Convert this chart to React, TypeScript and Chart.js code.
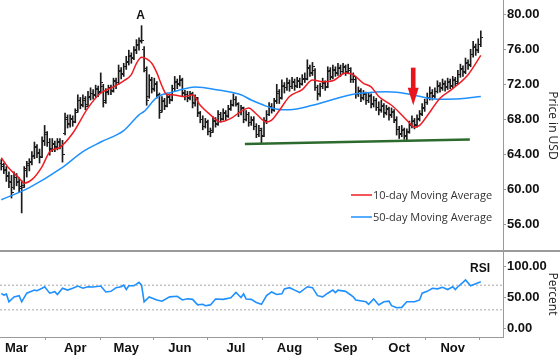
import React, { useEffect, useRef } from 'react';
import { Chart, registerables } from 'chart.js';

Chart.register(...registerables);

// ---- categories / ticks ----
const monthLabels = ['Mar', 'Apr', 'May', 'Jun', 'Jul', 'Aug', 'Sep', 'Oct', 'Nov'];
const monthStartDay = [6, 29, 49, 70, 92, 113, 135, 156, 177];
const priceTicks = [56, 60, 64, 68, 72, 76, 80];
const rsiTicks = [0, 50, 100];
const rsiBands = [70, 30];

// ---- daily OHLC (trading-day index 0..188) ----
const opens = [
  63.0, 62.6, 62.2, 61.6, 60.9, 60.2, 61.3, 60.8, 60.1, 60.4,
  62.2, 62.7, 63.1, 63.8, 64.8, 64.1, 63.8, 65.5, 66.3, 65.3,
  64.7, 65.1, 64.9, 65.4, 64.9, 66.4, 68.0, 67.5, 68.0, 67.8,
  69.0, 70.1, 69.7, 70.2, 69.7, 70.5, 71.0, 70.8, 71.4, 71.2,
  71.8, 70.1, 71.1, 71.5, 71.3, 72.3, 72.2, 73.5, 73.2, 74.0,
  74.5, 75.2, 75.1, 75.9, 76.4, 77.0, 76.0, 73.8, 70.6, 72.4,
  71.5, 72.0, 70.7, 69.0, 70.0, 69.6, 70.5, 70.3, 71.5, 72.2,
  72.1, 72.4, 71.1, 70.8, 70.5, 70.8, 69.9, 70.3, 68.8, 68.0,
  67.2, 67.6, 66.6, 66.7, 67.8, 67.5, 68.5, 68.1, 68.7, 68.4,
  69.2, 69.7, 70.3, 69.7, 68.8, 69.2, 68.0, 68.5, 67.6, 67.9,
  67.2, 66.3, 66.7, 66.2, 67.9, 68.6, 69.4, 69.1, 70.1, 71.0,
  70.5, 71.8, 71.6, 72.1, 71.8, 72.2, 71.9, 72.3, 72.1, 72.6,
  72.7, 73.8, 73.3, 73.6, 71.6, 70.9, 71.8, 72.1, 71.8, 73.5,
  72.9, 73.6, 73.3, 73.8, 73.5, 73.9, 73.5, 73.6, 72.6, 72.6,
  70.9, 71.2, 70.5, 70.8, 70.2, 70.6, 69.8, 70.1, 69.4, 69.1,
  69.5, 68.8, 69.1, 68.5, 68.8, 67.9, 66.8, 66.4, 66.7, 66.0,
  66.6, 67.3, 67.8, 67.4, 68.0, 68.7, 69.2, 69.9, 70.4, 71.0,
  70.7, 71.2, 71.8, 71.6, 72.0, 71.7, 72.2, 71.9, 72.4, 72.3,
  73.1, 73.7, 73.5, 74.4, 74.3, 75.4, 76.2, 76.0, 76.6,
];
const highs = [
  63.4, 63.0, 62.6, 62.0, 61.6, 62.0, 61.8, 61.3, 61.0, 62.6,
  63.2, 63.5, 64.3, 65.4, 65.1, 64.6, 66.0, 67.3, 66.6, 65.8,
  65.8, 65.5, 65.8, 65.8, 65.6, 68.7, 68.5, 68.5, 68.4, 69.2,
  70.8, 70.5, 70.8, 70.6, 71.2, 71.6, 71.4, 71.9, 71.8, 73.3,
  72.0, 71.5, 71.9, 71.9, 72.7, 72.7, 74.2, 73.9, 74.4, 75.2,
  75.9, 75.6, 76.3, 77.1, 77.3, 78.7, 76.3, 74.0, 73.1, 72.8,
  72.7, 72.3, 71.0, 70.6, 70.4, 71.0, 70.9, 71.9, 72.9, 72.6,
  73.0, 72.7, 71.3, 71.2, 71.2, 71.1, 70.8, 70.5, 68.9, 68.4,
  68.1, 67.9, 67.0, 68.3, 68.2, 69.0, 68.8, 69.2, 69.0, 69.6,
  70.2, 70.9, 70.6, 69.9, 69.6, 69.4, 69.0, 68.8, 68.3, 68.3,
  67.5, 67.3, 67.0, 68.2, 69.0, 69.9, 69.8, 70.4, 72.0, 71.4,
  72.5, 72.2, 72.7, 72.5, 72.8, 72.6, 72.8, 72.7, 73.1, 73.3,
  74.8, 74.2, 74.5, 73.8, 71.9, 72.1, 72.7, 72.4, 74.0, 73.9,
  74.2, 74.0, 74.4, 74.2, 74.4, 74.2, 74.3, 73.9, 73.3, 72.8,
  71.7, 71.5, 71.3, 71.1, 71.0, 70.9, 70.6, 70.4, 70.0, 70.2,
  69.8, 69.6, 69.4, 69.3, 69.1, 68.3, 67.2, 67.3, 67.0, 66.9,
  67.8, 68.4, 68.1, 68.5, 69.0, 69.8, 70.3, 71.0, 71.7, 71.4,
  71.6, 72.4, 72.2, 72.6, 72.4, 72.7, 72.6, 72.9, 72.8, 73.6,
  74.3, 74.1, 75.0, 74.8, 76.0, 76.9, 76.6, 77.2, 78.1,
];
const lows = [
  62.2, 61.8, 60.9, 60.2, 59.0, 60.0, 60.4, 59.7, 57.3, 60.2,
  61.4, 62.1, 62.8, 63.5, 63.6, 63.0, 63.6, 65.0, 64.9, 63.9,
  64.3, 64.3, 64.5, 64.6, 63.1, 66.2, 67.0, 67.1, 67.2, 67.6,
  68.8, 69.2, 69.4, 69.1, 69.5, 70.2, 70.3, 70.5, 70.6, 71.0,
  69.4, 69.8, 70.8, 70.8, 71.1, 71.5, 72.0, 72.6, 72.9, 73.7,
  74.2, 74.4, 74.8, 75.5, 75.9, 76.7, 73.4, 69.6, 70.4, 71.0,
  71.2, 70.4, 68.1, 68.8, 69.1, 69.4, 69.8, 70.1, 71.2, 71.5,
  71.8, 70.7, 70.2, 70.0, 70.2, 69.3, 69.5, 68.3, 67.6, 66.8,
  67.0, 66.2, 66.0, 66.5, 67.1, 67.3, 67.7, 67.9, 67.9, 68.2,
  69.0, 69.5, 69.5, 68.3, 68.5, 67.6, 67.8, 67.2, 67.3, 66.8,
  65.9, 66.0, 65.3, 66.0, 67.5, 68.4, 68.7, 68.9, 69.8, 69.8,
  70.3, 71.0, 71.3, 71.2, 71.5, 71.3, 71.6, 71.6, 71.9, 72.2,
  72.5, 72.9, 73.0, 71.3, 70.2, 70.6, 71.5, 71.3, 71.6, 72.5,
  72.6, 72.9, 73.0, 72.9, 73.2, 73.0, 73.2, 72.2, 72.2, 70.4,
  70.6, 70.0, 70.2, 69.7, 69.9, 69.3, 69.4, 69.0, 68.5, 68.8,
  68.2, 68.5, 67.9, 68.2, 67.6, 66.2, 65.8, 66.0, 65.7, 65.5,
  66.4, 67.0, 66.9, 67.1, 67.8, 68.4, 68.9, 69.7, 70.2, 70.2,
  70.4, 71.0, 71.1, 71.3, 71.2, 71.4, 71.5, 71.6, 71.8, 72.0,
  72.8, 72.9, 73.2, 73.7, 74.0, 75.1, 75.3, 75.6, 76.3,
];
const closes = [
  62.8, 62.3, 61.5, 60.8, 59.6, 61.4, 60.9, 60.3, 60.2, 62.4,
  62.9, 63.2, 63.9, 64.9, 64.2, 63.6, 65.6, 66.5, 65.4, 64.6,
  65.2, 64.8, 65.5, 65.0, 64.0, 68.2, 67.4, 68.1, 67.6, 68.8,
  70.2, 69.6, 70.4, 69.5, 70.6, 71.0, 70.7, 71.5, 71.1, 72.2,
  69.9, 71.2, 71.6, 71.2, 72.4, 72.0, 73.6, 73.1, 74.0, 74.6,
  75.3, 75.0, 76.0, 76.5, 76.9, 77.0, 73.6, 70.1, 72.5, 71.4,
  72.1, 70.8, 68.8, 70.1, 69.5, 70.6, 70.2, 71.5, 72.3, 72.0,
  72.6, 71.0, 70.8, 70.4, 70.9, 69.8, 70.5, 68.7, 68.0, 67.2,
  67.7, 66.6, 66.5, 67.9, 67.4, 68.6, 68.0, 68.8, 68.3, 69.1,
  69.6, 70.3, 69.8, 68.8, 69.3, 68.0, 68.6, 67.6, 68.0, 67.2,
  66.3, 66.9, 66.0, 67.8, 68.6, 69.5, 69.0, 70.0, 71.2, 70.4,
  71.9, 71.6, 72.2, 71.7, 72.3, 71.8, 72.4, 72.0, 72.7, 72.5,
  73.9, 73.2, 74.0, 71.6, 70.8, 71.8, 72.2, 71.6, 73.6, 72.8,
  73.7, 73.2, 73.9, 73.5, 74.0, 73.4, 73.8, 72.5, 72.9, 70.8,
  71.3, 70.4, 70.9, 70.1, 70.7, 69.7, 70.2, 69.4, 69.0, 69.6,
  68.7, 69.2, 68.4, 68.9, 68.0, 66.8, 66.3, 66.8, 66.1, 66.5,
  67.4, 67.9, 67.3, 68.1, 68.6, 69.3, 69.9, 70.5, 71.1, 70.6,
  71.2, 71.9, 71.5, 72.1, 71.6, 72.3, 71.8, 72.5, 72.1, 73.1,
  73.8, 73.4, 74.5, 74.1, 75.4, 76.3, 75.9, 76.6, 77.4,
];

// ---- moving averages ----
const ma10Day = [0, 3, 7, 9, 12, 16, 19, 23, 28, 34, 39, 44, 48, 51, 53, 55, 57, 59, 61, 63, 65, 67, 72, 75, 78, 82, 86, 90, 94, 97, 100, 104, 106, 109, 113, 118, 122, 126, 130, 135, 138, 142, 145, 148, 153, 157, 160, 162, 164, 167, 172, 177, 183, 188];
const ma10Value = [63.6, 62.4, 61.3, 60.7, 61.1, 62.6, 64.3, 64.8, 66.4, 69.3, 71.0, 71.7, 72.4, 73.1, 74.4, 75.1, 74.9, 74.4, 73.3, 71.8, 70.8, 70.8, 70.6, 70.8, 69.6, 68.5, 67.7, 68.1, 68.9, 69.3, 68.6, 67.7, 67.9, 69.0, 70.6, 71.4, 72.5, 72.3, 72.4, 73.3, 73.1, 72.1, 71.7, 70.6, 69.6, 68.5, 67.6, 67.1, 67.3, 68.4, 70.4, 71.5, 73.1, 75.3];
const ma50Day = [0, 11, 24, 32, 39, 48, 54, 56, 61, 67, 70, 76, 85, 94, 98, 103, 106, 110, 113, 122, 127, 137, 142, 151, 155, 161, 171, 180, 188];
const ma50Value = [58.8, 60.2, 62.5, 64.3, 65.4, 66.7, 68.5, 68.9, 70.5, 71.1, 71.35, 71.7, 71.35, 70.8, 70.2, 69.6, 69.3, 69.1, 69.1, 69.6, 70.0, 70.8, 71.0, 71.15, 71.1, 70.8, 70.3, 70.35, 70.6];

// ---- RSI ----
const rsiDay = [0, 1, 2, 3, 5, 7, 8, 10, 13, 14, 16, 17, 19, 21, 22, 24, 26, 28, 30, 32, 34, 36, 39, 41, 43, 45, 47, 48, 49, 50, 52, 54, 55, 56, 58, 61, 63, 66, 69, 71, 73, 75, 77, 79, 80, 82, 84, 87, 90, 92, 93, 94, 95, 96, 98, 100, 102, 104, 106, 108, 110, 111, 113, 115, 117, 120, 122, 124, 126, 128, 130, 131, 132, 135, 138, 139, 143, 144, 146, 148, 150, 152, 153, 155, 157, 159, 162, 164, 165, 167, 169, 171, 173, 175, 177, 178, 179, 181, 182, 184, 186, 188];
const rsiValue = [56.7, 54, 55.5, 43, 51, 53, 43, 57, 62, 61, 65, 67.5, 57, 59.4, 55, 65, 62, 65, 68.6, 65, 67.5, 67, 68.6, 59, 60, 66, 67.5, 70, 63, 69, 69, 74.6, 70, 43, 51, 46, 44, 51, 52, 46, 48, 47, 38, 39, 36.7, 38, 47.5, 47, 49.7, 58.4, 54, 50, 56, 47.5, 47, 42, 39, 53, 59, 55, 56, 64, 66, 62, 58, 67.5, 66, 53, 51, 57, 62, 58, 62, 60, 51, 46, 43, 39, 47.5, 37.8, 43, 44, 36.7, 33.5, 34, 43, 43, 46, 57, 60, 65, 64, 66.5, 63, 67.5, 63, 67.5, 74.6, 78.4, 69, 72.5, 75.6];

// ---- annotations ----
const supportDay = [95.5, 183.7];
const supportValue = [65.18, 65.7];
const arrowDay = 161.5;
const arrowTop = 73.9;
const arrowHeadBase = 71.6;
const arrowTip = 69.6;

const X_MIN = -0.5;
const X_MAX = 196.7;

const RED = '#ee1d23';
const BLUE = '#1e90ff';
const AXIS = '#9a9a9a';
const LABEL_FONT = '"Liberation Sans", Arial, sans-serif';
const TEXT_FONT = '"Open Sans", "Noto Sans", sans-serif';

function makeTick(side: 'left' | 'right'): HTMLCanvasElement {
  const c = document.createElement('canvas');
  c.width = 5;
  c.height = 1;
  const g = c.getContext('2d')!;
  g.fillStyle = '#1a1a1a';
  if (side === 'left') g.fillRect(0, 0, 2, 1);
  else g.fillRect(3, 0, 2, 1);
  return c;
}

const overlayPlugin = {
  id: 'overlay',
  afterDatasetsDraw(chart: any) {
    const { ctx, scales, chartArea } = chart;
    const x = scales.x;
    const y = scales.y;
    const r = scales.rsi;
    ctx.save();

    // panel separator
    ctx.strokeStyle = AXIS;
    ctx.lineWidth = 2;
    ctx.beginPath();
    ctx.moveTo(0, y.bottom);
    ctx.lineTo(chart.width, y.bottom);
    ctx.stroke();

    // red arrow
    const ax = x.getPixelForValue(arrowDay);
    const yTop = y.getPixelForValue(arrowTop);
    const yBase = y.getPixelForValue(arrowHeadBase);
    const yTip = y.getPixelForValue(arrowTip);
    ctx.fillStyle = '#e8141c';
    ctx.fillRect(ax - 2.3, yTop, 4.6, yBase - yTop + 0.5);
    ctx.beginPath();
    ctx.moveTo(ax - 5.5, yBase);
    ctx.lineTo(ax + 5.5, yBase);
    ctx.lineTo(ax, yTip);
    ctx.closePath();
    ctx.fill();

    // "A" at the highest high
    let peak = 0;
    highs.forEach((h, i) => { if (h > highs[peak]) peak = i; });
    ctx.fillStyle = '#111';
    ctx.font = `bold 12px ${LABEL_FONT}`;
    ctx.textAlign = 'center';
    ctx.textBaseline = 'alphabetic';
    ctx.fillText('A', x.getPixelForValue(peak) - 1, y.getPixelForValue(highs[peak]) - 7);

    // "RSI"
    ctx.fillText('RSI', chartArea.right - 23, r.top + 21);

    // legend
    ctx.font = `11px ${TEXT_FONT}`;
    ctx.textAlign = 'left';
    ctx.textBaseline = 'middle';
    const rows = [
      { color: RED, text: '10-day Moving Average', yy: y.bottom - 56 },
      { color: BLUE, text: '50-day Moving Average', yy: y.bottom - 34 },
    ];
    rows.forEach((row) => {
      ctx.strokeStyle = row.color;
      ctx.lineWidth = 1.5;
      ctx.beginPath();
      ctx.moveTo(chartArea.right - 152, row.yy);
      ctx.lineTo(chartArea.right - 131, row.yy);
      ctx.stroke();
      ctx.fillStyle = '#333';
      ctx.fillText(row.text, chartArea.right - 130, row.yy + 0.5);
    });

    ctx.restore();
  },
};

export default function App() {
  const canvasRef = useRef<HTMLCanvasElement | null>(null);

  useEffect(() => {
    document.body.style.margin = '0';
    const canvas = canvasRef.current;
    if (!canvas) return;

    const openTick = makeTick('left');
    const closeTick = makeTick('right');

    const chart = new Chart(canvas, {
      type: 'scatter',
      data: {
        datasets: [
          {
            type: 'line',
            label: '10-day Moving Average',
            data: ma10Day.map((d, i) => ({ x: d, y: ma10Value[i] })),
            borderColor: RED,
            borderWidth: 1.5,
            pointRadius: 0,
            cubicInterpolationMode: 'monotone',
            yAxisID: 'y',
            order: 1,
          },
          {
            type: 'line',
            label: '50-day Moving Average',
            data: ma50Day.map((d, i) => ({ x: d, y: ma50Value[i] })),
            borderColor: BLUE,
            borderWidth: 1.5,
            pointRadius: 0,
            cubicInterpolationMode: 'monotone',
            yAxisID: 'y',
            order: 2,
          },
          {
            type: 'line',
            label: 'Support',
            data: supportDay.map((d, i) => ({ x: d, y: supportValue[i] })),
            borderColor: '#2d6a2d',
            borderWidth: 2.5,
            pointRadius: 0,
            yAxisID: 'y',
            order: 0,
          },
          {
            type: 'bar',
            label: 'High-Low',
            data: highs.map((h, i) => ({ x: i, y: [lows[i], h] })),
            backgroundColor: '#1a1a1a',
            borderWidth: 0,
            barThickness: 1,
            yAxisID: 'y',
            order: 5,
          } as any,
          {
            type: 'scatter',
            label: 'Open',
            data: opens.map((o, i) => ({ x: i, y: o })),
            pointStyle: openTick as any,
            pointRadius: 2,
            showLine: false,
            yAxisID: 'y',
            order: 4,
          },
          {
            type: 'scatter',
            label: 'Close',
            data: closes.map((c, i) => ({ x: i, y: c })),
            pointStyle: closeTick as any,
            pointRadius: 2,
            showLine: false,
            yAxisID: 'y',
            order: 4,
          },
          ...rsiBands.map((b) => ({
            type: 'line' as const,
            label: 'band ' + b,
            data: [{ x: X_MIN, y: b }, { x: X_MAX, y: b }],
            borderColor: '#a8a8a8',
            borderWidth: 1,
            borderDash: [2, 2],
            pointRadius: 0,
            yAxisID: 'rsi',
            order: 6,
          })),
          {
            type: 'line',
            label: 'RSI',
            data: rsiDay.map((d, i) => ({ x: d, y: rsiValue[i] })),
            borderColor: BLUE,
            borderWidth: 1.6,
            pointRadius: 0,
            yAxisID: 'rsi',
            order: 1,
          },
        ] as any,
      },
      options: {
        responsive: false,
        maintainAspectRatio: false,
        devicePixelRatio: 1,
        animation: false,
        events: [],
        layout: { padding: 0, autoPadding: false },
        plugins: {
          legend: { display: false },
          tooltip: { enabled: false },
        },
        scales: {
          x: {
            type: 'linear',
            min: X_MIN,
            max: X_MAX,
            offset: false,
            grid: { display: true, drawOnChartArea: false, drawTicks: true, tickLength: 3, color: AXIS },
            border: { display: true, color: AXIS, width: 1 },
            ticks: {
              autoSkip: false,
              maxRotation: 0,
              padding: 1,
              color: '#111',
              font: { family: LABEL_FONT, size: 13, weight: 'bold' },
              callback: (v: any) => {
                const k = monthStartDay.indexOf(Number(v));
                return k >= 0 ? monthLabels[k] : '';
              },
            },
            afterBuildTicks: (s: any) => {
              s.ticks = monthStartDay.map((v) => ({ value: v }));
            },
            afterFit: (s: any) => {
              s.height = 18;
              s.paddingLeft = 0;
              s.paddingRight = 0;
            },
          },
          y: {
            type: 'linear',
            position: 'right',
            stack: 'panels',
            stackWeight: 251,
            min: 52.95,
            max: 81.63,
            grid: { display: true, drawOnChartArea: false, drawTicks: true, tickLength: 3, color: AXIS },
            border: { display: true, color: AXIS, width: 1 },
            ticks: {
              padding: 1,
              color: '#111',
              font: { family: LABEL_FONT, size: 13, weight: 'bold' },
              callback: (v: any) => Number(v).toFixed(2),
            },
            afterBuildTicks: (s: any) => {
              s.ticks = priceTicks.map((v) => ({ value: v }));
            },
            title: {
              display: true,
              text: 'Price in USD',
              color: '#222',
              font: { family: TEXT_FONT, size: 12 },
              padding: { top: 0, bottom: 1 },
            },
            afterFit: (s: any) => {
              s.width = 57;
              s.paddingTop = 0;
              s.paddingBottom = 0;
            },
          },
          rsi: {
            type: 'linear',
            position: 'right',
            stack: 'panels',
            stackWeight: 86,
            min: -14.1,
            max: 125.5,
            grid: { display: true, drawOnChartArea: false, drawTicks: true, tickLength: 3, color: AXIS },
            border: { display: true, color: AXIS, width: 1 },
            ticks: {
              padding: 1,
              color: '#111',
              font: { family: LABEL_FONT, size: 13, weight: 'bold' },
              callback: (v: any) => Number(v).toFixed(2),
            },
            afterBuildTicks: (s: any) => {
              s.ticks = rsiTicks.map((v) => ({ value: v }));
            },
            title: {
              display: true,
              text: 'Percent',
              color: '#222',
              font: { family: TEXT_FONT, size: 12 },
              padding: { top: 0, bottom: 1 },
            },
            afterFit: (s: any) => {
              s.width = 57;
              s.paddingTop = 0;
              s.paddingBottom = 0;
            },
          },
        },
      } as any,
      plugins: [overlayPlugin],
    });

    return () => {
      chart.destroy();
    };
  }, []);

  return (
    <div style={{ width: 560, height: 355, background: '#fff' }}>
      <canvas ref={canvasRef} width={560} height={355} style={{ display: 'block' }} />
    </div>
  );
}
